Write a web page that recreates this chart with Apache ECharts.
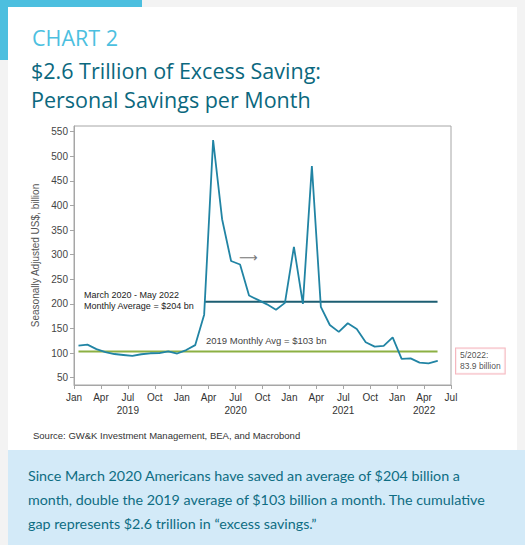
<!DOCTYPE html>
<html><head><meta charset="utf-8">
<script src="https://cdn.jsdelivr.net/npm/echarts@6/dist/echarts.min.js"></script>
<style>html,body{margin:0;padding:0;background:#f3f3f3}#c{width:525px;height:545px}</style>
</head><body><div id="c"></div>
<script>
// ---- data ----
const months = ['2019-01','2019-02','2019-03','2019-04','2019-05','2019-06','2019-07','2019-08','2019-09','2019-10','2019-11','2019-12',
  '2020-01','2020-02','2020-03','2020-04','2020-05','2020-06','2020-07','2020-08','2020-09','2020-10','2020-11','2020-12',
  '2021-01','2021-02','2021-03','2021-04','2021-05','2021-06','2021-07','2021-08','2021-09','2021-10','2021-11','2021-12',
  '2022-01','2022-02','2022-03','2022-04','2022-05'];
const savings = [115,117,108,102,98,96,94,97.5,99.5,100,103.5,99,
  106,116,178,533,372,287,280,217,208,199,188,202,
  316,200,480,194,157,143,160.5,149,122,113,114.5,132,
  88,89,80.5,79,83.9];
const avg2019 = 103;
const avgPandemic = 204;
const pandemicStart = '2020-03';
const quarterLabels = ['Jan','Apr','Jul','Oct','Jan','Apr','Jul','Oct','Jan','Apr','Jul','Oct','Jan','Apr','Jul'];
const yearLabels = {'6':'2019','18':'2020','30':'2021','39':'2022'};
const yTickValues = [50,100,150,200,250,300,350,400,450,500,550];

// ---- build ----
const lineData = months.map((m, i) => [i + 0.5, savings[i]]);
const last = lineData.length - 1;
const lastLabel = months[last].slice(5).replace(/^0/, '') + '/' + months[last].slice(0, 4) + ':\n' + savings[last].toFixed(1) + ' billion';
const pIdx = months.indexOf(pandemicStart);

const chart = echarts.init(document.getElementById('c'), null, {renderer: 'svg'});
const F = 'Liberation Sans, Arial, sans-serif';
chart.setOption({
  backgroundColor: '#f3f3f3',
  animation: false,
  graphic: [
    {type: 'rect', z: -10, silent: true, shape: {x: 8, y: 7, width: 509, height: 443}, style: {fill: '#ffffff'}},
    {type: 'rect', z: -9, silent: true, shape: {x: 0, y: 0, width: 142, height: 7}, style: {fill: '#4cbfdf'}},
    {type: 'rect', z: -9, silent: true, shape: {x: 0, y: 0, width: 8, height: 60}, style: {fill: '#4cbfdf'}},
    {type: 'rect', z: -10, silent: true, shape: {x: 8, y: 450, width: 517, height: 95}, style: {fill: '#d3eaf8'}},
    {type: 'text', left: 32, top: 26, style: {text: 'CHART 2', fontFamily: 'Open Sans', fontSize: 21.5, fill: '#4cbfdf'}},
    {type: 'text', left: 31, top: 59, style: {text: '$2.6 Trillion of Excess Saving:', fontFamily: 'Open Sans', fontSize: 21.5, fill: '#0b687e'}},
    {type: 'text', left: 31, top: 88, style: {text: 'Personal Savings per Month', fontFamily: 'Open Sans', fontSize: 21.5, fill: '#0b687e'}},
    {type: 'text', left: 84, top: 289, style: {text: 'March 2020 - May 2022\nMonthly Average = $204 bn', fontFamily: F, fontSize: 9, lineHeight: 11, fill: '#222'}},
    {type: 'text', left: 206, top: 335, style: {text: '2019 Monthly Avg = $103 bn', fontFamily: F, fontSize: 9.5, fill: '#444'}},
    {type: 'text', left: 239, top: 251, style: {text: '\u27f6', fontFamily: 'DejaVu Sans', fontSize: 13, fill: '#777'}},
    {type: 'text', left: 33, top: 430, style: {text: 'Source: GW&K Investment Management, BEA, and Macrobond', fontFamily: F, fontSize: 9.5, fill: '#333'}},
    {type: 'text', left: 28, top: 463, style: {text: 'Since March 2020 Americans have saved an average of $204 billion a\nmonth, double the 2019 average of $103 billion a month. The cumulative\ngap represents $2.6 trillion in \u201cexcess savings.\u201d', fontFamily: 'Lato', fontSize: 14.3, lineHeight: 24, fill: '#0e6d83'}}
  ],
  grid: {left: 74, right: 74, top: 126, bottom: 160, show: true, borderColor: '#a6a6a6', borderWidth: 1, backgroundColor: 'transparent'},
  xAxis: {
    type: 'value', min: 0, max: 42, interval: 3,
    axisLine: {show: true, lineStyle: {color: '#a6a6a6'}},
    axisTick: {show: true, length: 4, lineStyle: {color: '#a6a6a6'}},
    splitLine: {show: false},
    axisLabel: {
      fontFamily: F, fontSize: 10, color: '#333', margin: 6, lineHeight: 13,
      formatter: v => quarterLabels[v / 3] + (yearLabels[String(v)] ? '\n' + yearLabels[String(v)] : '')
    }
  },
  yAxis: {
    type: 'value', min: 35, max: 561.5,
    name: 'Seasonally Adjusted US$, billion', nameLocation: 'middle', nameGap: 29,
    nameTextStyle: {fontFamily: F, fontSize: 10, color: '#555'},
    axisLine: {show: true, lineStyle: {color: '#a6a6a6'}},
    axisTick: {show: true, length: 4, customValues: yTickValues, lineStyle: {color: '#a6a6a6'}},
    splitLine: {show: false},
    axisLabel: {customValues: yTickValues, fontFamily: F, fontSize: 10, color: '#444', margin: 6}
  },
  series: [
    {type: 'line', data: [[0.5, avg2019], [last + 0.5, avg2019]], symbol: 'none', lineStyle: {color: '#8cb043', width: 2}, z: 2},
    {type: 'line', data: [[pIdx + 0.5, avgPandemic], [last + 0.5, avgPandemic]], symbol: 'none', lineStyle: {color: '#1d5e72', width: 2}, z: 2},
    {type: 'line', data: lineData, showSymbol: false, lineStyle: {color: '#2184a4', width: 1.8}, z: 3},
    {type: 'scatter', data: [lineData[last]], symbolSize: 1, itemStyle: {color: '#2184a4'}, z: 4,
      label: {
        show: true, position: 'right', distance: 18, formatter: lastLabel,
        fontFamily: F, fontSize: 8.5, color: '#222', lineHeight: 11,
        backgroundColor: '#fff', borderColor: '#f2a3ad', borderWidth: 1, padding: [2, 4, 1, 4]
      }
    }
  ]
});
</script></body></html>
